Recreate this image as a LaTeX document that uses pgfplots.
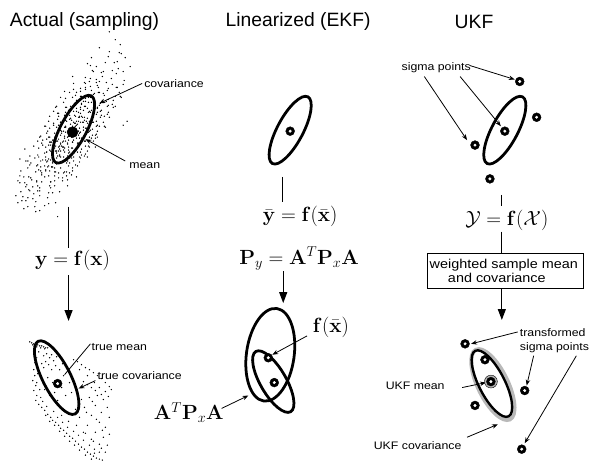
\documentclass[border=0pt]{standalone}
\usepackage[no-math]{fontspec}
\usepackage{graphicx}
\usepackage{pgfplots}
\pgfplotsset{compat=1.18}
\usetikzlibrary{arrows.meta}
\newfontfamily\lsans{Liberation Sans}
\newcommand{\lab}[1]{\scalebox{1.13}[1]{\lsans\fontsize{11}{11}\selectfont #1}}
\newcommand{\boxlab}[1]{\scalebox{1.12}[1]{\lsans\fontsize{13}{13}\selectfont #1}}
\begin{document}
\begin{tikzpicture}[
  arr/.style={line width=0.8pt, -{Stealth[length=6pt,width=4.5pt]}},
  flow/.style={line width=1.3pt},
  farr/.style={line width=1.3pt, -{Triangle[length=11pt,width=8pt]}},
  ell/.style={line width=2.8pt},
  ttl/.style={font=\lsans\fontsize{19.5}{20}\selectfont, inner sep=0pt},
  eq/.style={font=\fontsize{20}{20}\selectfont, inner sep=0pt},
  lb/.style={anchor=west, inner sep=0pt},
  dots/.style={only marks, mark=*, mark size=0.45pt, mark options={fill=black!65, draw=none}},
]
\begin{axis}[
  scale only axis, width=589bp, height=465bp,
  xmin=0, xmax=589, ymin=0, ymax=465, y dir=reverse,
  hide axis, clip=false,
]
\draw[draw=none] (rel axis cs:0,0) rectangle (rel axis cs:1,1);

% ---- sampled cloud (before transformation)
\addplot[dots] coordinates {
(121,45) (110,52) (122,54) (92,58) (106,63) (126,58) (115,63) (91,66)
(93,71) (131,67) (104,72) (94,72) (73,77) (117,74)
(90,82) (112,79) (97,80) (107,83)
(74,84) (113,85) (99,88) (85,83) (124,85)
(74,90) (100,93) (117,88) (86,90) (65,92) (109,89)
(122,98) (77,93) (94,95) (82,97) (104,94) (89,98) (99,93)
(73,98) (109,100) (84,102) (66,99) (105,103) (91,98) (77,101) (116,97)
(113,105) (85,107) (96,104) (66,108) (92,103) (109,106) (78,102) (57,107) (101,104) (82,105)
(54,112) (98,109) (79,113) (114,108) (69,111) (86,107) (74,112) (96,109) (81,110) (91,113) (67,108)
(94,114) (79,118) (89,113) (65,116) (101,112) (76,117) (58,114) (97,115) (83,118) (69,113) (108,115) (80,117)
(94,123) (80,118) (66,121) (105,117) (77,122) (88,119) (58,120) (84,123) (101,118) (70,120) (49,122) (93,119) (74,123)
(81,123) (98,126) (67,122) (46,127) (90,124) (71,125) (106,128) (61,123) (78,125) (66,127) (88,124) (73,128) (83,123) (59,126)
(59,131) (76,127) (64,132) (86,129) (71,130) (81,133) (57,128) (93,130) (68,132) (50,129) (89,133) (75,128) (61,131) (100,127)
(90,132) (65,137) (47,134) (86,135) (72,138) (58,133) (97,135) (69,137) (80,134) (50,138) (76,133) (93,136) (62,132) (41,137)
(66,142) (77,139) (47,140) (73,143) (90,138) (59,140) (38,142) (82,139) (63,143) (98,138) (53,141) (70,137) (58,142) (80,139)
(80,144) (61,145) (96,148) (51,143) (68,145) (56,147) (78,144) (63,148) (73,143) (49,146) (85,142) (60,147) (42,144)
(60,150) (70,153) (46,148) (82,150) (57,152) (39,149) (78,153) (64,148) (50,151) (89,147) (61,152) (72,149)
(61,158) (47,153) (86,155) (58,157) (69,154) (39,158) (65,153) (82,156) (51,152) (30,157) (74,154)
(80,158) (49,160) (28,162) (72,159) (53,163) (88,158) (43,161) (60,157) (48,162) (70,159)
(57,165) (45,167) (67,164) (52,168) (62,163) (38,166) (74,162) (49,167) (31,164)
(46,172) (28,169) (67,173) (53,168) (39,171) (78,167) (50,172) (61,169)
(59,174) (29,178) (55,173) (72,176) (41,172) (20,177) (64,174)
(42,183) (77,178) (32,181) (49,177) (37,182) (59,179)
(51,183) (27,186) (63,182) (38,187) (20,184)
(29,191) (68,187) (40,192) (51,189)
(30,192) (16,197) (53,194) (34,195)
(26,202) (48,199) (33,200) (18,204) (49,205) (35,208)
(24,210) (36,213) (58,218)
(110,32) (124,126) (128,122) (116,40) (20,160) (25,150)
};
\addplot[dots] coordinates {
(100,48) (120,53) (109,57) (118,62) (88,64) (97,67) (119,69)
(124,72) (102,73) (113,71) (86,78) (103,77) (91,79)
(100,82) (86,84) (125,81) (97,83)
(91,87) (118,88) (81,89) (98,86) (86,88)
(70,93) (108,91) (95,94) (81,92) (120,93) (92,91)
(61,98) (105,96) (86,99) (121,97) (76,96) (93,98) (81,97)
(107,102) (82,104) (64,103) (103,101) (89,103) (75,104) (114,101) (86,102)
(108,107) (77,109) (56,108) (100,106) (81,108) (116,107) (71,107) (88,109) (76,106) (98,108)
(90,112) (66,113) (102,111) (77,112) (59,114) (98,113) (84,111) (70,112) (109,113) (81,114) (92,111)
(59,117) (85,118) (102,116) (71,119) (50,117) (94,118) (75,116) (110,118) (65,119) (82,117) (70,116) (92,119)
(90,122) (75,124) (85,121) (61,123) (97,122) (72,121) (54,124) (93,123) (79,122) (65,121) (104,123) (76,124) (87,122)
(73,127) (84,128) (54,126) (80,129) (97,127) (66,128) (45,127) (89,126) (70,129) (105,127) (60,128) (77,126) (65,128) (87,129)
(74,132) (62,134) (84,131) (69,133) (79,132) (55,134) (91,131) (66,133) (48,132) (87,134) (73,131) (59,133) (98,132) (70,134)
(57,137) (96,139) (68,138) (79,136) (49,138) (75,137) (92,139) (61,136) (40,138) (84,137) (65,139) (96,136) (55,138) (72,136)
(94,142) (52,143) (69,141) (57,142) (79,144) (64,142) (74,141) (50,143) (86,142) (61,144) (43,141) (82,143) (68,144) (54,141)
(79,147) (65,149) (51,146) (90,148) (62,147) (73,149) (43,146) (69,148) (86,147) (55,149) (34,147) (78,146) (59,148)
(76,152) (57,154) (88,152) (47,153) (64,151) (52,153) (74,154) (59,152) (69,151) (45,154) (81,153) (56,152)
(53,157) (35,159) (74,158) (60,156) (46,158) (85,157) (57,159) (68,157) (38,156) (64,158) (81,159)
(47,163) (26,162) (70,164) (51,161) (80,163) (41,162) (58,164) (46,161) (68,162) (53,164)
(37,167) (73,169) (48,168) (30,166) (69,167) (55,169) (41,168) (76,166) (52,168)
(56,173) (73,172) (42,174) (21,172) (65,173) (46,171) (70,174) (36,173)
(45,178) (55,177) (31,179) (67,177) (42,176) (24,178) (63,179)
(55,182) (25,184) (51,183) (68,181) (37,183) (18,182)
(33,188) (55,187) (40,189) (50,187) (26,188)
(60,193) (38,192) (49,194) (21,193)
(23,198) (40,197) (28,199) (36,203) (22,202) (56,204)
(28,208) (45,207) (40,212)
};

% ---- transformed cloud
\addplot[dots] coordinates {
(30,344) (32,345) (34,346) (36,346) (38,347) (40,348) (42,348) (44,349) (46,350) (48,350) (33,347) (37,349) (41,350) (45,351)
(44,358) (47,356) (50,360) (52,357) (46,364) (54,363) (49,367) (56,368) (60,372) (52,372) (44,370)
(34,372) (35,378) (33,383) (36,388) (34,393) (37,398) (36,403) (39,407) (38,376) (37,385) (40,392) (41,400) (35,365) (37,360)
(48,380) (53,385) (45,392) (55,395) (62,390) (66,398) (58,403) (50,398) (64,378) (70,385) (72,395)
(42,410) (45,413) (48,417) (51,420) (53,423) (56,425) (59,428) (61,431) (64,433) (67,436) (70,439) (73,441) (76,444) (79,447) (82,450) (85,452) (88,455) (91,457) (94,459) (97,461) (100,462) (103,463)
(46,418) (50,424) (55,428) (60,434) (65,439) (70,444) (75,448) (80,453) (86,458) (92,462)
(58,420) (63,425) (68,430) (74,434) (79,438) (84,443) (90,448) (95,452) (100,455)
(74,362) (78,364) (82,367) (86,370) (90,372) (94,375) (98,378) (102,381) (106,385) (110,389) (112,392)
(80,372) (88,378) (95,385) (100,390) (106,394) (84,384) (92,390) (98,398) (104,402) (90,400) (96,408) (102,415)
(85,410) (92,418) (100,425) (106,430) (80,420) (88,428) (96,435) (104,440) (108,448) (84,435) (92,442) (100,447) (106,455)
(76,412) (82,402) (108,410) (110,420)
(39,354) (42,366) (57,359) (63,366) (68,371) (43,404) (47,409) (54,414) (62,418) (69,424) (77,428) (86,436) (94,444) (102,451)
(88,387) (96,393) (102,397) (109,399) (93,404) (87,415) (97,422) (103,433) (110,437) (95,456)
};

% ---- ellipses
\draw[ell, rotate around={62:(axis cs:74,130)}] (axis cs:74,130) ellipse [x radius=38bp, y radius=13bp];
\draw[ell, rotate around={-63:(axis cs:57,380)}] (axis cs:57,380) ellipse [x radius=41bp, y radius=14bp];
\draw[ell, rotate around={62:(axis cs:292,131)}] (axis cs:292,131) ellipse [x radius=38bp, y radius=13bp];
\draw[ell, rotate around={82:(axis cs:272,357)}] (axis cs:272,357) ellipse [x radius=47bp, y radius=24bp];
\draw[ell, rotate around={-60:(axis cs:275,384)}] (axis cs:275,384) ellipse [x radius=35bp, y radius=13bp];
\draw[ell, rotate around={62:(axis cs:508,131)}] (axis cs:508,131) ellipse [x radius=38bp, y radius=13bp];
\draw[line width=4pt, gray!55, rotate around={-64:(axis cs:496,387)}] (axis cs:496,387) ellipse [x radius=39bp, y radius=15bp];
\draw[line width=2.4pt, rotate around={-63:(axis cs:495,386)}] (axis cs:495,386) ellipse [x radius=37bp, y radius=13bp];

% ---- points
\addplot[only marks, mark=*, mark size=5.5pt, mark options={fill=black, draw=black}] coordinates {(73,133)};
\addplot[only marks, mark=*, mark size=6.5pt, mark options={fill=gray!60, draw=none}] coordinates {(494,384)};
\addplot[only marks, mark=*, mark size=4.5pt, mark options={fill=black, draw=black}] coordinates {
(58,386) (292,132) (270,360) (276,385)
(508,132) (523,82) (540,118) (478,146) (493,180)
(468,346) (488,362) (494,384) (478,408) (528,393) (525,452)};
\addplot[only marks, mark=*, mark size=1.3pt, mark options={fill=white, draw=white}] coordinates {
(58,386) (292,132) (270,360) (276,385)
(508,132) (523,82) (540,118) (478,146) (493,180)
(468,346) (488,362) (494,384) (478,408) (528,393) (525,452)};

% ---- titles
\node[ttl] at (axis cs:85,22) {Actual (sampling)};
\node[ttl] at (axis cs:300,22) {Linearized (EKF)};
\node[ttl] at (axis cs:477,22) {UKF};

% ---- column 1
\draw[arr] (axis cs:143,84) -- (axis cs:100,104);
\node[lb] at (axis cs:145,84) {\lab{covariance}};
\draw[arr] (axis cs:126,162) -- (axis cs:86,140);
\node[lb] at (axis cs:130,167) {\lab{mean}};
\draw[flow] (axis cs:69,208) -- (axis cs:69,250);
\node[eq] at (axis cs:73,262) {$\mathbf{y}=\mathbf{f}(\mathbf{x})$};
\draw[farr] (axis cs:69,277) -- (axis cs:69,323);
\draw[line width=0.8pt] (axis cs:91,346) -- (axis cs:65,377);
\node[lb] at (axis cs:92,349) {\lab{true mean}};
\draw[arr] (axis cs:96,383) -- (axis cs:79,391);
\node[lb] at (axis cs:98,378) {\lab{true covariance}};

% ---- column 2
\draw[flow] (axis cs:284,178) -- (axis cs:284,203);
\node[eq] at (axis cs:302,218) {$\bar{\mathbf{y}}=\mathbf{f}(\bar{\mathbf{x}})$};
\node[eq] at (axis cs:301,260) {$\mathbf{P}_y=\mathbf{A}^T\mathbf{P}_x\mathbf{A}$};
\draw[farr] (axis cs:285,273) -- (axis cs:285,305);
\node[eq] at (axis cs:333,329) {$\mathbf{f}(\bar{\mathbf{x}})$};
\draw[arr] (axis cs:309,338) -- (axis cs:274,357);
\node[eq] at (axis cs:190,415) {$\mathbf{A}^T\mathbf{P}_x\mathbf{A}$};
\draw[arr] (axis cs:223,411) -- (axis cs:250,398);

% ---- column 3
\node[lb] at (axis cs:404,68) {\lab{sigma points}};
\draw[arr] (axis cs:473,66) -- (axis cs:518,80);
\draw[arr] (axis cs:427,77) -- (axis cs:470,141);
\draw[arr] (axis cs:463,77) -- (axis cs:504,127);
\draw[flow] (axis cs:505,196) -- (axis cs:505,207);
\node[eq] at (axis cs:510,222) {$\mathcal{Y}=\mathbf{f}(\mathcal{X})$};
\draw[flow] (axis cs:505,233) -- (axis cs:505,255);
\draw[line width=0.9pt] (axis cs:430,255) rectangle (axis cs:587,290);
\node at (axis cs:507,267) {\boxlab{weighted sample mean}};
\node at (axis cs:500,280) {\boxlab{and covariance}};
\draw[farr] (axis cs:505,291) -- (axis cs:505,322);
\node[lb] at (axis cs:523,335) {\lab{transformed}};
\node[lb] at (axis cs:523,350) {\lab{sigma points}};
\draw[arr] (axis cs:521,334) -- (axis cs:474,346);
\draw[arr] (axis cs:537,358) -- (axis cs:530,388);
\draw[arr] (axis cs:580,358) -- (axis cs:528,446);
\node[lb] at (axis cs:388,388) {\lab{UKF mean}};
\draw[arr] (axis cs:465,390) -- (axis cs:489,385);
\node[lb] at (axis cs:376,448) {\lab{UKF covariance}};
\draw[arr] (axis cs:470,440) -- (axis cs:501,427);
\end{axis}
\end{tikzpicture}
\end{document}
